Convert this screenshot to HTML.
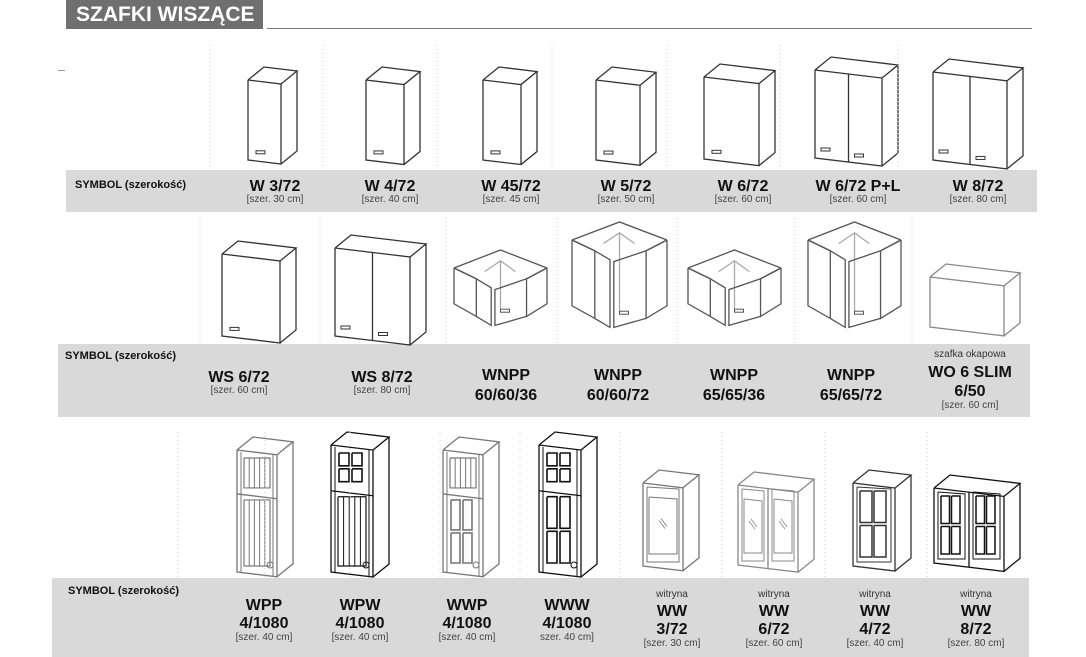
<!DOCTYPE html>
<html><head><meta charset="utf-8"><style>
body{margin:0;width:1086px;height:657px;background:#fff;position:relative;overflow:hidden;font-family:"Liberation Sans",sans-serif}
.a{position:absolute}
.band{position:absolute;background:#d9d9da}
.sym{position:absolute;font-size:11px;font-weight:bold;color:#111}
.lab{position:absolute;text-align:center;width:120px;color:#111;line-height:1}
.lab b{display:block;font-size:16px;font-weight:bold}
.lab s{text-decoration:none;display:block;font-size:10px;color:#444}
.lab i{font-style:normal;display:block;font-size:10px;color:#333;margin-bottom:3px}
</style></head><body>
<div class="a" style="left:66px;top:0;width:197px;height:29px;background:#6f6f70;color:#fff;font-weight:bold;font-size:21px;line-height:29px;padding-left:10px;box-sizing:border-box">SZAFKI WISZĄCE</div>
<div class="a" style="left:267px;top:28px;width:765px;height:1px;background:#777"></div>
<div class="a" style="left:58px;top:70px;width:7px;height:1px;background:#999"></div>

<div class="band" style="left:66px;top:170px;width:971px;height:42px"></div>
<div class="band" style="left:58px;top:344px;width:972px;height:73px"></div>
<div class="band" style="left:52px;top:578px;width:977px;height:79px"></div>

<svg class="a" style="left:0;top:0" width="1086" height="657" id="s"></svg>

<div class="sym" style="left:75px;top:179px">SYMBOL (szerokość)</div>
<div class="sym" style="left:65px;top:350px">SYMBOL (szerokość)</div>
<div class="sym" style="left:68px;top:585px">SYMBOL (szerokość)</div>

<div class="lab" style="left:215px;top:179px"><b>W 3/72</b><s>[szer. 30 cm]</s></div>
<div class="lab" style="left:330px;top:179px"><b>W 4/72</b><s>[szer. 40 cm]</s></div>
<div class="lab" style="left:451px;top:179px"><b>W 45/72</b><s>[szer. 45 cm]</s></div>
<div class="lab" style="left:566px;top:179px"><b>W 5/72</b><s>[szer. 50 cm]</s></div>
<div class="lab" style="left:683px;top:179px"><b>W 6/72</b><s>[szer. 60 cm]</s></div>
<div class="lab" style="left:798px;top:179px"><b>W 6/72 P+L</b><s>[szer. 60 cm]</s></div>
<div class="lab" style="left:918px;top:179px"><b>W 8/72</b><s>[szer. 80 cm]</s></div>

<div class="lab" style="left:179px;top:370px"><b>WS 6/72</b><s>[szer. 60 cm]</s></div>
<div class="lab" style="left:322px;top:370px"><b>WS 8/72</b><s>[szer. 80 cm]</s></div>
<div class="lab" style="left:446px;top:366px"><b style="line-height:20px">WNPP<br>60/60/36</b></div>
<div class="lab" style="left:558px;top:366px"><b style="line-height:20px">WNPP<br>60/60/72</b></div>
<div class="lab" style="left:674px;top:366px"><b style="line-height:20px">WNPP<br>65/65/36</b></div>
<div class="lab" style="left:791px;top:366px"><b style="line-height:20px">WNPP<br>65/65/72</b></div>
<div class="lab" style="left:910px;top:350px"><i>szafka okapowa</i><b style="line-height:19px">WO 6 SLIM<br>6/50</b><s>[szer. 60 cm]</s></div>

<div class="lab" style="left:204px;top:597px"><b style="line-height:18px">WPP<br>4/1080</b><s>[szer. 40 cm]</s></div>
<div class="lab" style="left:300px;top:597px"><b style="line-height:18px">WPW<br>4/1080</b><s>[szer. 40 cm]</s></div>
<div class="lab" style="left:407px;top:597px"><b style="line-height:18px">WWP<br>4/1080</b><s>[szer. 40 cm]</s></div>
<div class="lab" style="left:507px;top:597px"><b style="line-height:18px">WWW<br>4/1080</b><s>szer. 40 cm]</s></div>
<div class="lab" style="left:612px;top:590px"><i>witryna</i><b style="line-height:18px">WW<br>3/72</b><s>[szer. 30 cm]</s></div>
<div class="lab" style="left:714px;top:590px"><i>witryna</i><b style="line-height:18px">WW<br>6/72</b><s>[szer. 60 cm]</s></div>
<div class="lab" style="left:815px;top:590px"><i>witryna</i><b style="line-height:18px">WW<br>4/72</b><s>[szer. 40 cm]</s></div>
<div class="lab" style="left:916px;top:590px"><i>witryna</i><b style="line-height:18px">WW<br>8/72</b><s>[szer. 80 cm]</s></div>

<script>
var o='';
function L(p,c,w){o+='<polyline points="'+p.map(function(q){return q.join(',')}).join(' ')+'" fill="none" stroke="'+(c||'#333')+'" stroke-width="'+(w||1.3)+'"/>';}
function cab(x,y,w,h,doors,col,kind){
 var s=w*0.12,d=16,e=13;col=col||'#333';
 var A=[x,y],B=[x+w,y+s],C=[x+w,y+s+h],D=[x,y+h];
 L([A,B,C,D,A],col);
 L([A,[x+d,y-e],[x+w+d,y+s-e],B],col);
 L([[x+w+d,y+s-e],[x+w+d,y+s+h-e],C],col);
 if(doors==2){L([[x+w/2,y+s/2],[x+w/2,y+s/2+h]],col);}
 if(kind==='h'){
   if(doors==2){o+='<rect x="'+(x+6)+'" y="'+(y+h-10)+'" width="9" height="3" fill="none" stroke="'+col+'"/><rect x="'+(x+w/2+6)+'" y="'+(y+h-8+s/2)+'" width="9" height="3" fill="none" stroke="'+col+'"/>';}
   else o+='<rect x="'+(x+8)+'" y="'+(y+h-10+s*0.2)+'" width="9" height="3" fill="none" stroke="'+col+'"/>';
 }
}
cab(248,80,33,80,1,0,'h');
cab(366,80,38,80,1,0,'h');
cab(483,80,38,80,1,0,'h');
cab(596,80,44,80,1,0,'h');
cab(704,77,55,82,1,0,'h');
cab(815,70,67,88,2,0,'h');
cab(933,72,74,88,2,0,'h');
cab(222,254,58,82,1,0,'h');
cab(335,248,75,88,2,0,'h');
cab(930,277,74,50,1,'#888');
function corner(x,y,w,h,t){
 var c='#555';var Lp=[x,y+t],T=[x+w/2,y],R=[x+w,y+t];
 L([Lp,T,R],c);L([Lp,[x+w*0.24,y+t*1.6]],c);L([R,[x+w*0.78,y+t*1.6]],c);
 L([[x+w*0.33,y+t*1.2],[x+w/2,y+t*0.6],[x+w*0.66,y+t*1.2]],'#aaa');L([[x+w/2,y+t*0.6],[x+w/2,y+h-t*0.6]],'#aaa');
 L([Lp,[x,y+h-t*0.9],[x+w*0.24,y+h-t*0.2],[x+w*0.24,y+t*1.6],Lp],c);
 L([[x+w*0.24,y+t*1.6],[x+w*0.4,y+t*2.1],[x+w*0.4,y+h+t*0.3],[x+w*0.24,y+h-t*0.2]],c);
 L([R,[x+w,y+h-t*0.9],[x+w*0.78,y+h-t*0.2],[x+w*0.78,y+t*1.6],R],c);
 L([[x+w*0.78,y+t*1.6],[x+w*0.44,y+t*2.2],[x+w*0.44,y+h+t*0.3],[x+w*0.78,y+h-t*0.2]],c);
 o+='<rect x="'+(x+w*0.5)+'" y="'+(y+h-t*0.6)+'" width="9" height="3" fill="none" stroke="'+c+'"/>';
}
corner(454,250,93,70,18);
corner(572,222,95,100,18);
corner(688,250,93,70,18);
corner(808,222,93,100,18);
function tall(x,y,w,h,col,top,bot){
 cab(x,y,w,h,1,col);
 L([[x+4,y+2],[x+4,y+h]],col,1);L([[x+w-4,y+w*0.12],[x+w-4,y+h+w*0.1]],col,1);
 var mid=y+h*0.36;L([[x,mid],[x+w,mid+w*0.12]],col);
 function sec(y1,y2,type){
  if(type==='v'){L([[x+7,y1+6],[x+w-7,y1+6],[x+w-7,y2-6],[x+7,y2-6],[x+7,y1+6]],col,1.2);for(var i=1;i<5;i++){var xx=x+7+i*(w-14)/5;L([[xx,y1+6],[xx,y2-6]],col,1);}}
  else if(type==='g'){var hh=(y2-y1-12)/2;for(var r=0;r<2;r++)for(var k=0;k<2;k++){var qx=x+8+k*(w-16)/2,qy=y1+6+r*hh;L([[qx,qy],[qx+(w-16)/2-3,qy],[qx+(w-16)/2-3,qy+hh-3],[qx,qy+hh-3],[qx,qy]],col,1.6);}}
 }
 sec(y+2,mid,top);sec(mid,y+h,bot);
 o+='<circle cx="'+(x+w-7)+'" cy="'+(y+h-7)+'" r="3" fill="none" stroke="'+col+'"/>';
}
tall(237,450,40,122,'#777','v','v');
tall(331,445,42,127,'#111','g','v');
tall(443,450,40,122,'#777','v','g');
tall(539,445,42,127,'#111','g','g');
function vit(x,y,w,h,n,col,glass){
 cab(x,y,w,h,n,col);
 var dw=w/n;for(var i=0;i<n;i++){var px=x+i*dw;
  L([[px+4,y+4],[px+dw-4,y+6],[px+dw-4,y+h-4],[px+4,y+h-4],[px+4,y+4]],col,1);
  if(glass){L([[px+6,y+14],[px+dw-6,y+16],[px+dw-6,y+h-12],[px+6,y+h-12],[px+6,y+14]],col,1);
   L([[px+dw/2-4,y+h/2-4],[px+dw/2+2,y+h/2+4]],col,0.8);L([[px+dw/2-2,y+h/2-6],[px+dw/2+4,y+h/2+2]],col,0.8);}
  else{var hh=(h-14)/2;for(var r=0;r<2;r++)for(var k=0;k<2;k++){var qx=px+7+k*(dw-14)/2,qy=y+8+r*hh;L([[qx,qy],[qx+(dw-14)/2-2,qy],[qx+(dw-14)/2-2,qy+hh-3],[qx,qy+hh-3],[qx,qy]],col,1.5);}}
 }
}
vit(643,483,40,83,1,'#777',true);
vit(738,485,60,80,2,'#888',true);
vit(853,483,42,83,1,'#333',false);
vit(934,488,70,75,2,'#111',false);
var seps=[[210,45,168],[323,45,168],[437,45,168],[552,45,168],[667,45,168],[780,45,168],[898,45,168],
[200,218,344],[320,218,344],[446,218,344],[557,218,344],[677,218,344],[795,218,344],[912,218,344],
[178,432,578],[265,432,578],[350,432,578],[440,432,578],[520,432,578],[620,432,578],[722,432,578],[825,432,578],[927,432,578]];
seps.forEach(function(s){o+='<line x1="'+s[0]+'" y1="'+s[1]+'" x2="'+s[0]+'" y2="'+s[2]+'" stroke="#ccc" stroke-dasharray="1,3"/>';});
document.getElementById('s').innerHTML=o;
</script>
</body></html>
